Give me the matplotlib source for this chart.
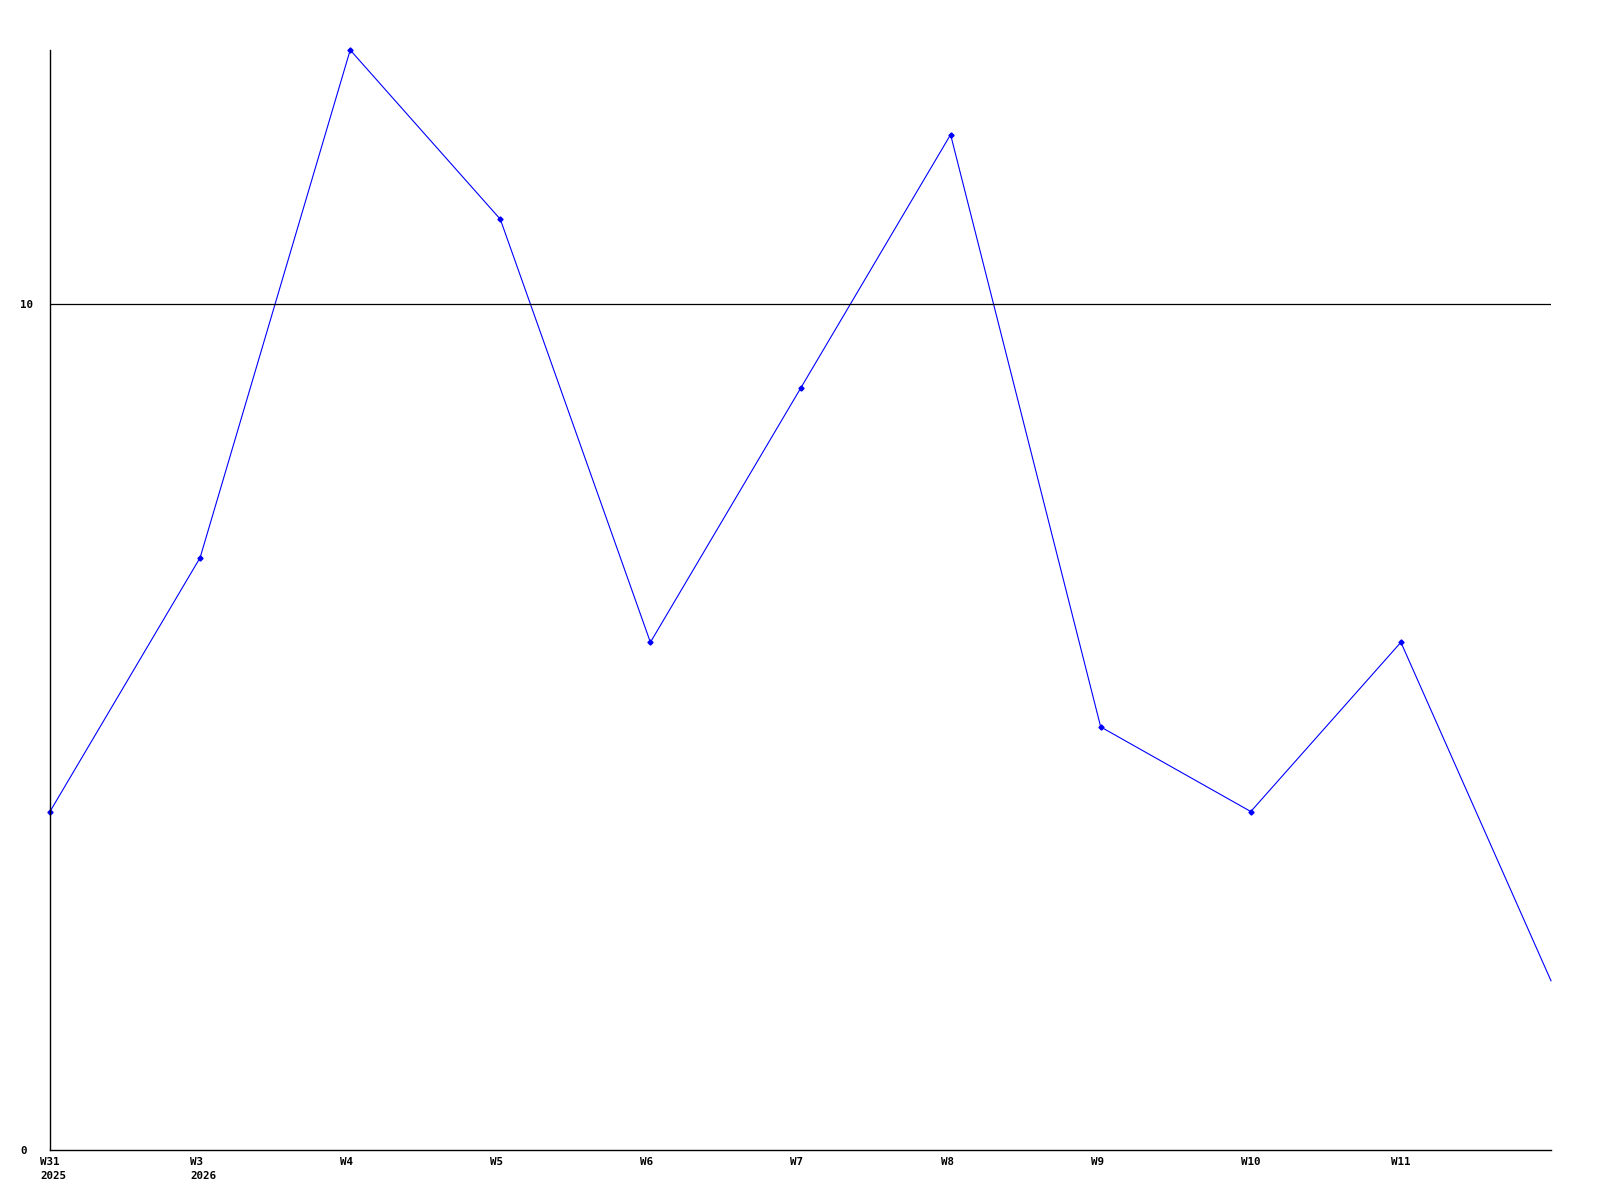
import matplotlib
matplotlib.use("Agg")
import matplotlib.pyplot as plt
import matplotlib.transforms as mtrans

week_labels = ["W31\n2025", "W3\n2026", "W4", "W5", "W6", "W7", "W8", "W9", "W10", "W11", ""]
values = [4, 7, 13, 11, 6, 9, 12, 5, 4, 6, 2]
y_ticks = [0, 10]

fig = plt.figure(figsize=(16, 12), dpi=100)
ax = fig.add_axes([50/1600, 1 - 1150/1200, (1551-50)/1600, 1100/1200])

x = list(range(len(values)))
ax.plot(x, values, color="#0000ff", lw=0.8, solid_joinstyle="miter", clip_on=False)
ax.plot(x[:-1], values[:-1], ls="none", marker="D", ms=2.6, color="#0000ff", clip_on=False)

ax.set_xlim(0, len(values) - 1)
ax.set_ylim(0, 13)
for s in ["top", "right"]:
    ax.spines[s].set_visible(False)
for s in ["left", "bottom"]:
    ax.spines[s].set_linewidth(1.0)
    ax.spines[s].set_color("black")

ax.axhline(10, color="black", lw=0.9)

font = dict(family="DejaVu Sans Mono", weight="bold", size=7.8)
ax.set_yticks(y_ticks)
ax.set_yticklabels([str(v) for v in y_ticks], ha="left", **font)
ax.tick_params(axis="y", length=0, pad=21.5)
ax.set_xticks(x)
ax.set_xticklabels(week_labels, ha="left", va="top", linespacing=1.5, **font)
ax.tick_params(axis="x", length=0, pad=5)
offset = mtrans.ScaledTranslation(-10/100, 0, fig.dpi_scale_trans)
for lbl in ax.get_xticklabels():
    lbl.set_transform(lbl.get_transform() + offset)

fig.savefig("out.png", dpi=100, facecolor="white")
